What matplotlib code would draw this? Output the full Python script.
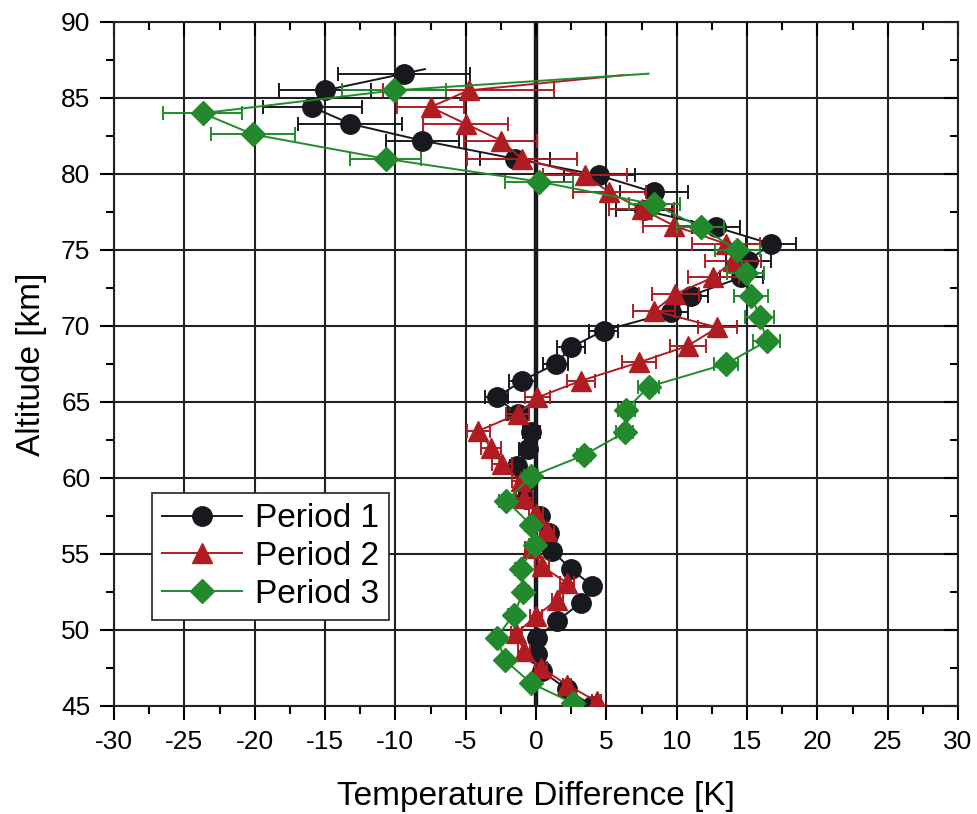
import numpy as np
import matplotlib.pyplot as plt
from matplotlib.ticker import MultipleLocator

plt.rcParams['font.family'] = ['Liberation Sans', 'DejaVu Sans']
plt.rcParams['axes.unicode_minus'] = False

# Period 1 (black circles)
alt1 = [86.6, 85.5, 84.4, 83.3, 82.2, 81.0, 79.9, 78.8, 77.6, 76.5, 75.4, 74.3, 73.2,
        72.0, 70.9, 69.7, 68.6, 67.5, 66.4, 65.3, 64.2, 63.0, 61.9, 60.8, 59.7, 58.6,
        57.5, 56.4, 55.2, 54.0, 52.9, 51.8, 50.6, 49.5, 48.4, 47.3, 46.1, 45.0]
dt1 = [-9.4, -15.0, -15.9, -13.2, -8.1, -1.5, 4.5, 8.4, 7.7, 12.8, 16.7, 15.1, 14.6,
       11.0, 9.6, 4.8, 2.5, 1.4, -1.0, -2.8, -1.3, -0.35, -0.6, -1.35, -0.8, -0.7,
       0.3, 0.9, 1.15, 2.5, 4.0, 3.2, 1.5, 0.1, 0.1, 0.4, 2.2, 4.0]
err1 = [4.7, 3.3, 3.5, 3.7, 2.6, 2.5, 2.5, 2.4, 2.0, 1.7, 1.8, 1.6, 1.5,
        1.2, 1.2, 1.0, 1.0, 0.9, 0.9, 0.8, 0.7, 0.6, 0.6, 0.5, 0.5, 0.5,
        0.5, 0.5, 0.4, 0.4, 0.4, 0.4, 0.4, 0.3, 0.3, 0.3, 0.3, 0.3]

# Period 2 (red triangles)
alt2 = [85.5, 84.4, 83.3, 82.2, 81.0, 79.9, 78.8, 77.7, 76.6, 75.4, 74.3, 73.2, 72.1,
        71.0, 69.9, 68.7, 67.6, 66.4, 65.3, 64.2, 63.1, 62.0, 60.9, 59.8, 58.7, 57.6,
        56.5, 55.4, 54.2, 53.1, 52.0, 50.9, 49.8, 48.6, 47.5, 46.4, 45.3]
dt2 = [-4.8, -7.5, -5.0, -2.5, -1.0, 3.5, 5.2, 7.5, 9.8, 13.5, 14.0, 12.6, 9.9,
       8.4, 12.9, 10.8, 7.3, 3.2, 0.1, -1.3, -4.1, -3.2, -2.4, -1.1, -0.85, 0.0,
       0.8, -0.3, 0.4, 2.2, 1.5, 0.0, -1.4, -0.85, 0.35, 2.2, 4.3]
err2 = [6.1, 2.4, 3.0, 2.6, 3.9, 3.0, 2.6, 2.3, 2.2, 2.4, 2.0, 1.8, 1.65,
        1.5, 1.4, 1.3, 1.2, 1.0, 0.9, 0.8, 0.8, 0.7, 0.7, 0.6, 0.6, 0.5,
        0.5, 0.5, 0.5, 0.5, 0.4, 0.4, 0.4, 0.4, 0.4, 0.3, 0.3]

# Period 3 (green diamonds)
alt3 = [85.5, 84.0, 82.6, 81.0, 79.5, 78.0, 76.5, 75.0, 73.5, 72.0, 70.6, 69.0, 67.5,
        66.0, 64.5, 63.0, 61.5, 60.1, 58.5, 56.9, 55.6, 54.0, 52.5, 51.0, 49.5, 48.0,
        46.5, 45.2]
dt3 = [-10.1, -23.7, -20.1, -10.7, 0.2, 8.4, 11.7, 14.3, 14.9, 15.3, 15.9, 16.4, 13.5,
       8.0, 6.4, 6.3, 3.4, -0.35, -2.1, -0.35, -0.1, -1.1, -0.9, -1.6, -2.8, -2.2,
       -0.35, 2.6]
err3 = [3.7, 2.8, 3.0, 2.5, 2.4, 1.8, 1.65, 1.6, 1.3, 1.2, 1.05, 0.95, 0.85,
        0.75, 0.6, 0.6, 0.5, 0.5, 0.5, 0.4, 0.4, 0.4, 0.4, 0.4, 0.3, 0.3,
        0.3, 0.3]

# top ends of the thin profile lines
top1 = (-7.9, 86.9)
top2 = (6.2, 86.5)
top3 = (8.0, 86.6)

series = [
    ('Period 1', alt1, dt1, err1, top1, '#17191e', 'o', 14),
    ('Period 2', alt2, dt2, err2, top2, '#b01c21', '^', 14),
    ('Period 3', alt3, dt3, err3, top3, '#228a2d', 'D', 12),
]

fig = plt.figure(figsize=(9.77, 8.14), dpi=100)
ax = fig.add_axes([0.1167, 0.1327, 0.8639, 0.8403])

for x in range(-30, 31, 5):
    ax.axvline(x, color='#222222', lw=1.5, zorder=1)
for y in range(45, 91, 5):
    ax.axhline(y, color='#222222', lw=1.5, zorder=1)
ax.axvline(0, color='#17191e', lw=3.2, zorder=1.5)

handles = []
for i, (name, alt, dt, err, top, col, mk, ms) in enumerate(series):
    ax.plot([top[0]] + dt, [top[1]] + alt, color=col, lw=1.4, zorder=2 + i)
    ax.errorbar(dt, alt, xerr=err, fmt='none', ecolor=col, elinewidth=1.4,
                capsize=5, capthick=1.4, zorder=2 + i)
    ax.plot(dt, alt, ls='none', marker=mk, ms=ms, color=col, zorder=2.5 + i)
    h, = ax.plot([], [], color=col, lw=1.4, marker=mk, ms=ms)
    handles.append(h)

ax.set_xlim(-30, 30)
ax.set_ylim(45, 90)
ax.xaxis.set_major_locator(MultipleLocator(5))
ax.xaxis.set_minor_locator(MultipleLocator(2.5))
ax.yaxis.set_major_locator(MultipleLocator(5))
ax.yaxis.set_minor_locator(MultipleLocator(2.5))
ax.tick_params(which='major', direction='out', length=10, width=1.5, labelsize=19, pad=7)
ax.tick_params(which='minor', direction='out', length=6, width=1.5)
ax.tick_params(which='both', top=True, right=True)
for sp in ax.spines.values():
    sp.set_linewidth(1.5)
    sp.set_color('#222222')
# ticks on top and right point inward
for t in ax.xaxis.get_minor_ticks() + ax.xaxis.get_major_ticks():
    t.tick2line.set_marker(3)
for t in ax.yaxis.get_minor_ticks() + ax.yaxis.get_major_ticks():
    t.tick2line.set_marker(0)

ax.set_xlabel('Temperature Difference [K]', fontsize=24, labelpad=20)
ax.set_ylabel('Altitude [km]', fontsize=24, labelpad=10)

leg = ax.legend(handles, [s[0] for s in series], loc='lower left',
                bbox_to_anchor=(0.045, 0.126), fontsize=24, frameon=True,
                fancybox=False, edgecolor='#222222', framealpha=1,
                handlelength=2.4, borderpad=0.3, labelspacing=0.2,
                handletextpad=0.4, borderaxespad=0)
leg.get_frame().set_linewidth(1.2)
leg.set_zorder(10)

fig.savefig('out.png', dpi=100)
